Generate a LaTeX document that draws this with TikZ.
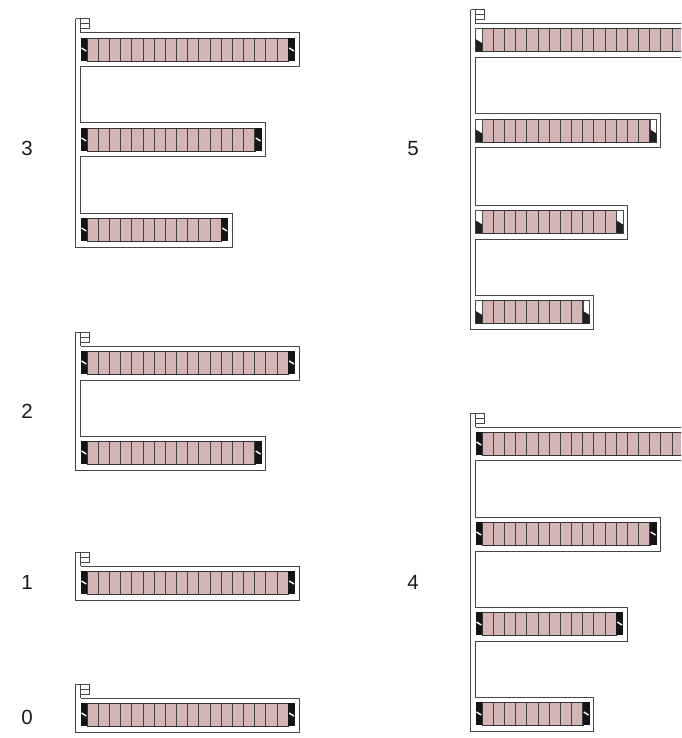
\documentclass[tikz,border=0pt]{standalone}
\usepackage{fontspec}
\setmainfont{Liberation Sans}
\definecolor{cellpink}{RGB}{211,181,181}
\definecolor{combline}{RGB}{70,70,70}
\tikzset{
	combedge/.style={draw=combline, line width=1pt, line join=miter},
	cellbar/.style={fill=cellpink, draw=black!80, line width=0.8pt},
	celldiv/.style={draw=black!75, line width=1pt},
	countlabel/.style={font=\fontsize{20.5}{24}\selectfont, text=black!90, inner sep=0pt}
}
% terminal with black block and small white slash
\newcommand{\termdark}[2]{
	\fill[black!92] (#1,#2) rectangle ++(6.6,23);
	\draw[white, line width=1.4pt] (#1+0.8,#2+10) -- ++(4.8,3);
}
% terminal with white top and black notch below
\newcommand{\termopen}[2]{
	\draw[fill=white, draw=black!70, line width=0.7pt] (#1,#2) rectangle ++(6.6,23);
	\fill[black!88] (#1,#2+10.5) -- ++(6.6,4) |- (#1,#2+23) -- cycle;
}
% one bar: term macro, top of tooth, number of cells
\newcommand{\toothbar}[3]{
	\pgfmathsetmacro{\barend}{11.8+11.16*#3}
	\draw[cellbar] (11.6,#2+5) rectangle (\barend,#2+28);
	\foreach \k in {1,...,#3}{
		\pgfmathsetmacro{\divx}{11.6+11.16*\k}
		\draw[celldiv] (\divx,#2+5) -- (\divx,#2+28);
	}
	#1{5}{#2+5}
	#1{\barend}{#2+5}
}
% little flag above the first tooth
\newcommand{\flagmark}[1]{
	\draw[combedge] (5,#1-14) rectangle (13.5,#1-4);
	\draw[combedge] (5,#1-9) -- (13.5,#1-9);
	\draw[combedge] (5,#1-4) -- (5,#1);
}
\begin{document}
\begin{tikzpicture}[x=1pt, y=-1pt]
	\useasboundingbox (0,0) rectangle (681,738);
	\clip (0,0) rectangle (681,738);

	% 1. labels
	\node[countlabel] (lab3) at (27,148.5) {3};
	\node[countlabel] (lab2) at (27,411.5) {2};
	\node[countlabel] (lab1) at (27,582.5) {1};
	\node[countlabel] (lab0) at (27,717.5) {0};
	\node[countlabel] (lab5) at (413,148.5) {5};
	\node[countlabel] (lab4) at (413,582.5) {4};

	% 2. left column, three teeth
	\begin{scope}[shift={(75.7,0)}]
		\draw[combedge] (0,19) -- (5,19) (5,33) -- (223.6,33) -- (223.6,67) -- (5,67) -- (5,123)
			-- (190.1,123) -- (190.1,157) -- (5,157) -- (5,213) -- (156.6,213) -- (156.6,247)
			-- (0,247) -- (0,19);
		\flagmark{33}
		\toothbar{\termdark}{33}{18}
		\toothbar{\termdark}{123}{15}
		\toothbar{\termdark}{213}{12}
	\end{scope}

	% 3. left column, two teeth
	\begin{scope}[shift={(75.7,0)}]
		\draw[combedge] (0,332) -- (5,332) (5,346) -- (223.6,346) -- (223.6,380) -- (5,380) -- (5,436)
			-- (190.1,436) -- (190.1,470) -- (0,470) -- (0,332);
		\flagmark{346}
		\toothbar{\termdark}{346}{18}
		\toothbar{\termdark}{436}{15}
	\end{scope}

	% 4. left column, one tooth each
	\begin{scope}[shift={(75.7,0)}]
		\draw[combedge] (0,552) -- (5,552) (5,566) -- (223.6,566) -- (223.6,600) -- (0,600) -- (0,552);
		\flagmark{566}
		\toothbar{\termdark}{566}{18}

		\draw[combedge] (0,684) -- (5,684) (5,698) -- (223.6,698) -- (223.6,732) -- (0,732) -- (0,684);
		\flagmark{698}
		\toothbar{\termdark}{698}{18}
	\end{scope}

	% 5. right column, open terminals
	\begin{scope}[shift={(470.7,0)}]
		\draw[combedge] (0,9.7) -- (5,9.7) (5,23.7) -- (223.6,23.7) -- (223.6,57.3) -- (5,57.3) -- (5,114)
			-- (190.1,114) -- (190.1,148) -- (5,148) -- (5,205) -- (156.6,205) -- (156.6,239)
			-- (5,239) -- (5,295.5) -- (123.1,295.5) -- (123.1,329) -- (0,329) -- (0,9.7);
		\flagmark{23.7}
		\toothbar{\termopen}{23.7}{18}
		\toothbar{\termopen}{114}{15}
		\toothbar{\termopen}{205}{12}
		\toothbar{\termopen}{295.5}{9}
	\end{scope}

	% 6. right column, dark terminals
	\begin{scope}[shift={(470.7,0)}]
		\draw[combedge] (0,413) -- (5,413) (5,427) -- (223.6,427) -- (223.6,460.5) -- (5,460.5) -- (5,517)
			-- (190.1,517) -- (190.1,551) -- (5,551) -- (5,607) -- (156.6,607) -- (156.6,641)
			-- (5,641) -- (5,697) -- (123.1,697) -- (123.1,731) -- (0,731) -- (0,413);
		\flagmark{427}
		\toothbar{\termdark}{427}{18}
		\toothbar{\termdark}{517}{15}
		\toothbar{\termdark}{607}{12}
		\toothbar{\termdark}{697}{9}
	\end{scope}
\end{tikzpicture}
\end{document}
